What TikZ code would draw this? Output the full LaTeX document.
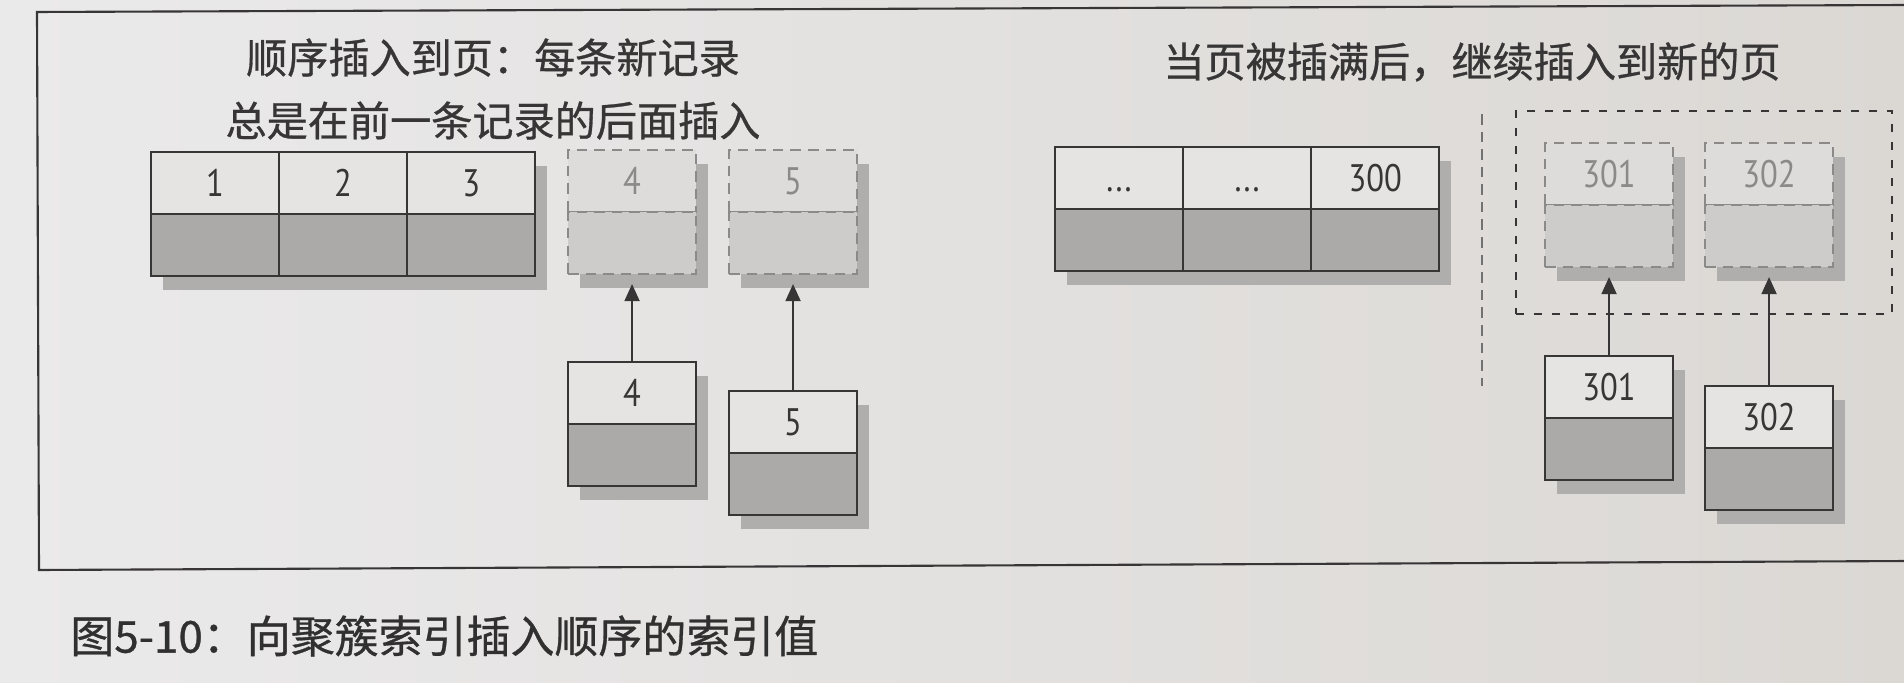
\documentclass[tikz,border=0pt]{standalone}
\usepackage{fontspec}
\usepackage{tikz}
\usetikzlibrary{positioning,shadows,arrows.meta}
\newfontfamily\cjk[FakeBold=0.7]{Noto Sans CJK SC}
\newfontfamily\numfont[FakeStretch=0.85]{PT Sans}

\definecolor{paperl}{RGB}{235,234,235}
\definecolor{paperr}{RGB}{219,216,212}
\definecolor{ink}{RGB}{55,53,53}
\definecolor{keyfill}{RGB}{229,228,227}
\definecolor{rowfill}{RGB}{172,170,168}
\definecolor{shadowgray}{RGB}{176,174,172}
\definecolor{ghostline}{RGB}{140,138,137}
\definecolor{ghostkey}{RGB}{222,220,219}
\definecolor{ghostrow}{RGB}{206,204,202}

\tikzset{
  keycell/.style={draw=ink, line width=0.6pt, fill=keyfill,
    minimum width=1.28cm, minimum height=0.62cm, inner sep=0pt, outer sep=0pt,
    text=ink, font=\numfont\fontsize{10.9pt}{12pt}\selectfont,
    text height=0.27cm, text depth=0pt,
    drop shadow={shadow xshift=0.12cm, shadow yshift=-0.14cm, fill=shadowgray, opacity=1}},
  rowcell/.style={keycell, fill=rowfill},
  ghostkey/.style={keycell, draw=ghostline, densely dashed, fill=ghostkey, text=ghostline},
  ghostrow/.style={ghostkey, fill=ghostrow},
  insert/.style={-{Triangle[length=0.17cm,width=0.15cm]}, draw=ink, line width=0.5pt, shorten >=0.1cm},
  groupbox/.style={draw=ink, line width=0.6pt, dash pattern=on 0.08cm off 0.1cm},
  sepline/.style={draw=ink!70, line width=0.4pt, densely dashed},
  frameline/.style={draw=ink, line width=0.6pt},
  title/.style={text=ink, font=\cjk\fontsize{11.7pt}{17.9pt}\selectfont},
  caption/.style={text=ink!90!black, font=\cjk\fontsize{12.5pt}{15pt}\selectfont}
}

\begin{document}
\begin{tikzpicture}[x=0.01cm, y=-0.01cm]
    \useasboundingbox (0,0) rectangle (1904,683);
    \shade[left color=paperl, right color=paperr] (0,0) rectangle (1904,683);
    \draw[frameline] (1910,5) -- (37,12) -- (39,570) -- (1910,561);

    % left half: page filled in order
    \node[title, align=center] (lefttitle) at (493,89) {顺序插入到页：每条新记录\\总是在前一条记录的后面插入};

    \node[keycell, anchor=north west] (k1) at (151,152) {1};
    \node[rowcell, below=0pt of k1] (r1) {};
    \node[keycell, right=0pt of k1] (k2) {2};
    \node[rowcell, below=0pt of k2] (r2) {};
    \node[keycell, right=0pt of k2] (k3) {3};
    \node[rowcell, below=0pt of k3] (r3) {};

    \node[ghostkey, anchor=north west] (g4) at (568,150) {4};
    \node[ghostrow, below=0pt of g4] (g4r) {};
    \node[ghostkey, anchor=north west] (g5) at (729,150) {5};
    \node[ghostrow, below=0pt of g5] (g5r) {};

    \node[keycell, anchor=north west] (n4) at (568,362) {4};
    \node[rowcell, below=0pt of n4] (n4r) {};
    \node[keycell, anchor=north west] (n5) at (729,391) {5};
    \node[rowcell, below=0pt of n5] (n5r) {};

    \path
    (n4.north) edge[insert] (g4r.south)
    (n5.north) edge[insert] (g5r.south);

    % right half: full page, then a new one
    \node[title] (righttitle) at (1472,62) {当页被插满后，继续插入到新的页};

    \node[keycell, anchor=north west] (k298) at (1055,147) {...};
    \node[rowcell, below=0pt of k298] (r298) {};
    \node[keycell, right=0pt of k298] (k299) {...};
    \node[rowcell, below=0pt of k299] (r299) {};
    \node[keycell, right=0pt of k299] (k300) {300};
    \node[rowcell, below=0pt of k300] (r300) {};

    \draw[sepline] (1482,114) -- (1482,386);
    \node[groupbox, anchor=north west, minimum width=3.76cm, minimum height=2.03cm] (newpage) at (1515,110) {};

    \node[ghostkey, anchor=north west] (g301) at (1545,143) {301};
    \node[ghostrow, below=0pt of g301] (g301r) {};
    \node[ghostkey, anchor=north west] (g302) at (1705,143) {302};
    \node[ghostrow, below=0pt of g302] (g302r) {};

    \node[keycell, anchor=north west] (n301) at (1545,356) {301};
    \node[rowcell, below=0pt of n301] (n301r) {};
    \node[keycell, anchor=north west] (n302) at (1705,386) {302};
    \node[rowcell, below=0pt of n302] (n302r) {};

    \path
    (n301.north) edge[insert] (g301r.south)
    (n302.north) edge[insert] (g302r.south);

    \node[caption, anchor=west] (cap) at (58,636) {图5-10：向聚簇索引插入顺序的索引值};
\end{tikzpicture}
\end{document}
